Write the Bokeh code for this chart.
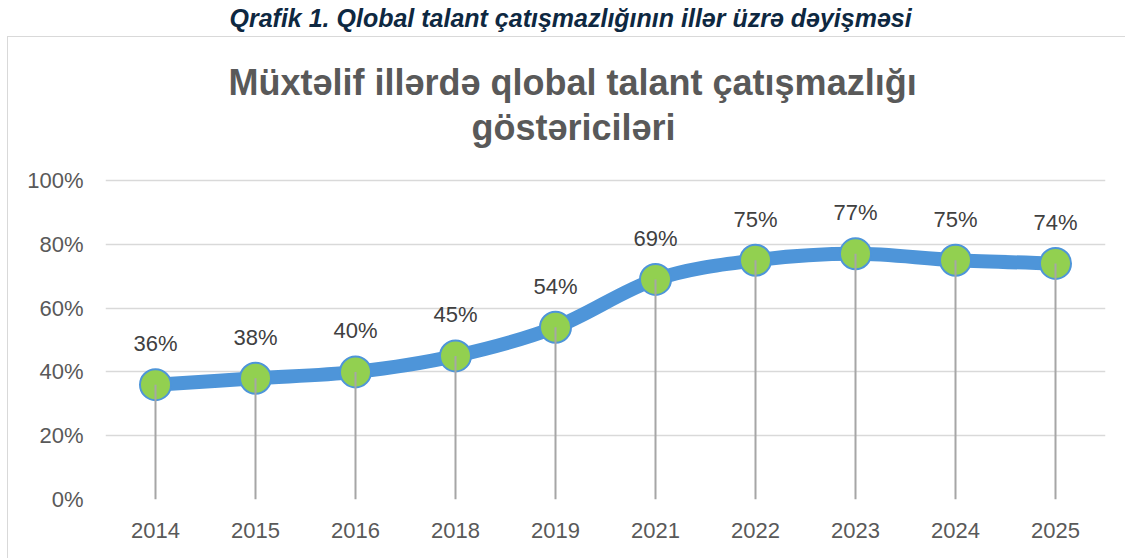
import numpy as np
from bokeh.plotting import figure
from bokeh.models import Range1d, FixedTicker, PrintfTickFormatter, ColumnDataSource
from bokeh.layouts import column
from bokeh.core.properties import value
from bokeh.embed import file_html
from bokeh.resources import INLINE

# ---- data ----
years = ["2014", "2015", "2016", "2018", "2019", "2021", "2022", "2023", "2024", "2025"]
shortage = [36, 38, 40, 45, 54, 69, 75, 77, 75, 74]
y_ticks = [0, 20, 40, 60, 80, 100]
caption = "Qrafik 1. Qlobal talant çatışmazlığının illər üzrə dəyişməsi"
title_lines = ["Müxtəlif illərdə qlobal talant çatışmazlığı", "göstəriciləri"]

FONT = "Liberation Sans"
W = 1118
BL, BR = 97, 21          # frame borders (frame spans page x 105..1105)

# ---- caption figure (frame aligned with the main one) ----
CH = 36
cap = figure(width=W, height=CH, x_range=Range1d(105, 1105), y_range=Range1d(0, CH),
             x_axis_type=None, y_axis_type=None, toolbar_location=None,
             output_backend="svg", min_border_left=BL, min_border_right=BR,
             min_border_top=0, min_border_bottom=0)
cap.styles = {"border-left": "1px solid transparent", "margin-left": "7px"}
cap.outline_line_color = None
cap.grid.visible = False
cap.text(x=[229], y=[CH - 17], text=[caption], text_align="left", text_baseline="middle",
         text_font=value(FONT), text_font_size="25px", text_font_style="bold italic",
         text_color="#0E2841")

# ---- main figure ----
n = len(years)
xs = np.arange(n, dtype=float)
ys = np.array(shortage, dtype=float)

H = 522
BB = 60
frame_h = H - BB                      # frame reaches the top of the chart area
y_top = 100 * frame_h / 319.0         # 0..100 spans 319 px
p = figure(width=W, height=H, x_range=Range1d(-0.5, n - 0.5), y_range=Range1d(0, y_top),
           toolbar_location=None, output_backend="svg",
           min_border_left=BL, min_border_right=BR, min_border_top=0, min_border_bottom=BB)
p.styles = {"border-left": "1px solid #D9D9D9", "border-top": "1px solid #D9D9D9",
            "margin-left": "7px"}
p.outline_line_color = None
p.xgrid.visible = False
p.ygrid.grid_line_color = "#D9D9D9"
p.ygrid.grid_line_width = 1.5
p.ygrid.ticker = FixedTicker(ticks=y_ticks)

p.xaxis.ticker = FixedTicker(ticks=list(range(n)))
p.xaxis.major_label_overrides = {i: y for i, y in enumerate(years)}
p.yaxis.ticker = FixedTicker(ticks=y_ticks)
p.yaxis.formatter = PrintfTickFormatter(format="%d%%")
for ax in (p.xaxis, p.yaxis):
    ax.axis_line_color = None
    ax.major_tick_line_color = None
    ax.minor_tick_line_color = None
    ax.major_tick_out = 0
    ax.major_tick_in = 0
    ax.major_label_text_font = FONT
    ax.major_label_text_font_size = "22px"
    ax.major_label_text_color = "#595959"
p.xaxis.major_label_standoff = 23
p.yaxis.major_label_standoff = 22

# smoothed line (Catmull-Rom style Bezier segments, as Excel's smoothed line)
pts = np.column_stack([xs, ys])
x0, y0, x1, y1, cx0, cy0, cx1, cy1 = ([] for _ in range(8))
for i in range(n - 1):
    P0 = pts[max(i - 1, 0)]
    P1 = pts[i]
    P2 = pts[i + 1]
    P3 = pts[min(i + 2, n - 1)]
    c1 = P1 + (P2 - P0) / 6.0
    c2 = P2 - (P3 - P1) / 6.0
    x0.append(P1[0]); y0.append(P1[1]); x1.append(P2[0]); y1.append(P2[1])
    cx0.append(c1[0]); cy0.append(c1[1]); cx1.append(c2[0]); cy1.append(c2[1])
p.bezier(x0=x0, y0=y0, x1=x1, y1=y1, cx0=cx0, cy0=cy0, cx1=cx1, cy1=cy1,
         line_color="#4E95D9", line_width=14, line_cap="round")

src = ColumnDataSource(dict(x=xs, y=ys, zero=np.zeros(n), lab=[f"{v}%" for v in shortage]))
p.scatter("x", "y", source=src, size=31, fill_color="#92D050", line_color="#4E95D9", line_width=2)
p.segment(x0="x", y0="zero", x1="x", y1="y", source=src, line_color="#A6A6A6", line_width=2)
p.text("x", "y", text="lab", source=src, y_offset=-41, text_align="center", text_baseline="middle",
       text_font=value(FONT), text_font_size="22px", text_color="#404040")

# chart title (two lines), placed above the 100% line
p.text(x=[0.73, 3.16], y=[100, 100], text=title_lines, y_offset=[-98, -53],
       text_align="left", text_baseline="middle", text_font=value(FONT),
       text_font_size="36px", text_font_style="bold", text_color="#595959")

layout = column(cap, p, spacing=0)
open("out.html", "w").write(file_html(layout, INLINE))
